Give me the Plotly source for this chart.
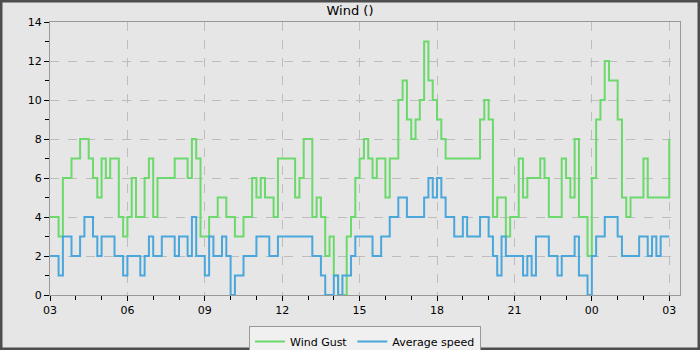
import plotly.graph_objects as go
import pandas as pd

# 10-minute samples starting 03:00
wind_gust = [
    4, 4, 3, 6, 6, 7, 7, 8, 8, 7,
    6, 5, 7, 6, 7, 7, 4, 3, 4, 6,
    4, 4, 6, 7, 4, 6, 6, 6, 6, 7,
    7, 7, 6, 8, 7, 3, 3, 4, 4, 5,
    5, 4, 4, 3, 3, 4, 4, 6, 5, 6,
    5, 5, 4, 7, 7, 7, 7, 5, 6, 8,
    8, 4, 5, 4, 2, 3, 1, 0, 0, 3,
    4, 6, 7, 8, 7, 6, 7, 7, 5, 7,
    7, 10, 11, 9, 8, 9, 10, 13, 11, 10,
    9, 8, 7, 7, 7, 7, 7, 7, 7, 7,
    9, 10, 9, 4, 5, 5, 3, 4, 4, 7,
    5, 6, 6, 6, 7, 6, 4, 4, 4, 7,
    6, 5, 8, 4, 4, 2, 6, 9, 10, 12,
    11, 11, 9, 5, 4, 5, 5, 5, 7, 5,
    5, 5, 5, 5, 8,
]
average_speed = [
    2, 2, 1, 3, 3, 2, 2, 3, 4, 4,
    3, 2, 3, 3, 3, 2, 2, 1, 2, 2,
    2, 1, 2, 3, 2, 2, 3, 3, 3, 2,
    3, 3, 2, 4, 2, 2, 1, 3, 2, 2,
    3, 2, 0, 1, 1, 2, 2, 2, 3, 3,
    3, 2, 2, 3, 3, 3, 3, 3, 3, 3,
    3, 2, 2, 1, 0, 0, 1, 0, 1, 1,
    2, 3, 3, 3, 3, 2, 2, 3, 3, 4,
    4, 5, 5, 4, 4, 4, 4, 5, 6, 5,
    6, 5, 4, 4, 3, 3, 4, 3, 3, 3,
    4, 4, 3, 2, 1, 3, 2, 2, 2, 2,
    1, 2, 1, 3, 3, 3, 2, 2, 1, 2,
    2, 2, 3, 1, 1, 0, 2, 3, 3, 4,
    4, 4, 3, 2, 2, 2, 2, 3, 3, 2,
    3, 2, 3, 3, 3,
]
start = pd.Timestamp("2024-05-01 03:00")
times = pd.date_range(start, periods=len(wind_gust), freq="10min")
x_end = start + pd.Timedelta(minutes=1465)

fig = go.Figure()
fig.add_trace(go.Scatter(x=times, y=wind_gust, name="Wind Gust", mode="lines",
                         line=dict(color="#6cd96c", width=2, shape="hv")))
fig.add_trace(go.Scatter(x=times, y=average_speed, name="Average speed", mode="lines",
                         line=dict(color="#4aa7dc", width=2, shape="hv")))

font = "DejaVu Sans, sans-serif"
fig.update_layout(
    width=700, height=350,
    margin=dict(l=50, r=20, t=22, b=55, autoexpand=False),
    paper_bgcolor="#e6e6e6", plot_bgcolor="#e6e6e6",
    font=dict(family=font, size=11, color="#000"),
    title=dict(text="Wind ()", x=0.5, xanchor="center", y=0.982, yanchor="top",
               font=dict(family=font, size=13, color="#000", weight="normal")),
    showlegend=True,
    legend=dict(orientation="h", x=0.5, xanchor="center",
                yref="container", y=(350 - 326) / 350, yanchor="top",
                bgcolor="#f0f0f0", bordercolor="#999", borderwidth=1,
                font=dict(family=font, size=11), itemwidth=30),
    shapes=[dict(type="rect", xref="paper", yref="paper",
                 x0=(1 - 50) / 630, x1=(699 - 50) / 630,
                 y0=(295 - 349) / 273, y1=(295 - 1) / 273,
                 line=dict(color="#4d4d4d", width=3), fillcolor="rgba(0,0,0,0)",
                 layer="above")],
)
fig.update_xaxes(
    range=[start, x_end], type="date",
    tick0=start, dtick=3 * 3600 * 1000, tickformat="%H",
    ticks="outside", ticklen=5, tickcolor="#000",
    showline=True, linecolor="#999", linewidth=1, mirror=True,
    showgrid=True, gridcolor="#bdbdbd", griddash="dash", gridwidth=1,
    minor=dict(dtick=3600 * 1000, tick0=start, ticks="outside", ticklen=4,
               tickcolor="#000", showgrid=False),
    zeroline=False,
)
fig.update_yaxes(
    range=[0, 14], dtick=2, tick0=0,
    ticks="outside", ticklen=5, tickcolor="#000",
    showline=True, linecolor="#999", linewidth=1, mirror=True,
    showgrid=True, gridcolor="#bdbdbd", griddash="dash", gridwidth=1,
    minor=dict(dtick=1, ticks="outside", ticklen=4, tickcolor="#000", showgrid=False),
    zeroline=False,
)
fig.write_html("out.html")
